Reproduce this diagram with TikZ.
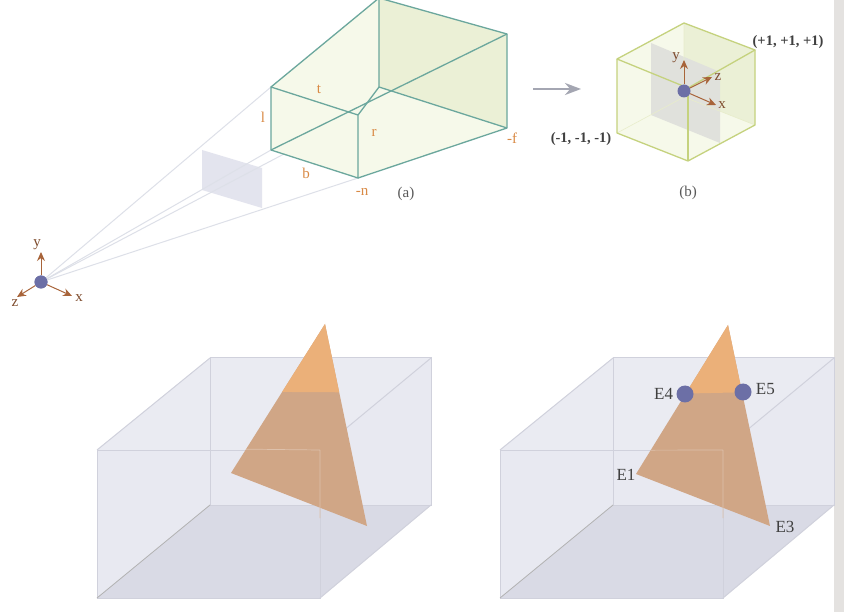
\documentclass[tikz,border=0pt]{standalone}
\definecolor{FrTeal}{HTML}{6BA79D}
\definecolor{FrFill}{HTML}{F6F9EA}
\definecolor{FrBack}{HTML}{EBF0D6}
\definecolor{CubeEdge}{HTML}{C5D27E}
\definecolor{RayGrey}{HTML}{DDE0E8}
\definecolor{PlaneBlue}{HTML}{E3E4EE}
\definecolor{PlaneGrey}{HTML}{E0E1DC}
\definecolor{AxisBrown}{HTML}{A8643A}
\definecolor{LabelOrange}{HTML}{D98A45}
\definecolor{DotBlue}{HTML}{6C6FA6}
\definecolor{ArrowGrey}{HTML}{A4A6B2}
\definecolor{BoxEdge}{HTML}{D0D1DC}
\definecolor{BoxWall}{HTML}{E8E9F1}
\definecolor{BoxTop}{HTML}{EAEBF2}
\definecolor{BoxFloor}{HTML}{D9DAE5}
\definecolor{TriLight}{HTML}{EBB079}
\definecolor{TriDark}{HTML}{D0A686}
\definecolor{StripGrey}{HTML}{E4E2E0}
\usepackage{fontspec}
\setmainfont{Liberation Serif}
\usepackage{tikz}
\usetikzlibrary{positioning,arrows.meta,calc}

\begin{document}
\begin{tikzpicture}[x=1pt,y=-1pt,
    every node/.style={font=\fontsize{12}{13}\selectfont, inner sep=0pt},
    frustumline/.style={draw=FrTeal, line width=1.3pt, line join=round},
    cubeline/.style={draw=CubeEdge, line width=1.3pt, line join=round},
    ray/.style={draw=RayGrey, line width=1pt},
    axis/.style={-{Stealth[length=9pt,width=8pt]}, draw=AxisBrown, line width=1pt},
    axislabel/.style={text=AxisBrown!75!black, font=\fontsize{15}{16}\selectfont},
    planelabel/.style={text=LabelOrange, font=\fontsize{15}{16}\selectfont},
    cornerlabel/.style={text=black!75, font=\fontsize{14.5}{16}\selectfont\bfseries},
    caption/.style={text=black!65, font=\fontsize{15}{16}\selectfont},
    dot/.style={circle, fill=DotBlue, minimum size=#1},
    elabel/.style={text=black!75, font=\fontsize{17}{18}\selectfont}]
    \useasboundingbox (0,0) rectangle (844,612);
    \fill[white] (0,0) rectangle (844,612);
    \fill[StripGrey] (834,0) rectangle (844,612);
    % (a)
    \coordinate (ntl) at (271,87);
    \coordinate (ntr) at (358,115);
    \coordinate (nbr) at (358,178);
    \coordinate (nbl) at (271,150);
    \coordinate (ftb) at (379,-2);
    \coordinate (ftr) at (507,34);
    \coordinate (fbr) at (507,128);
    \coordinate (fbb) at (379,87);
    \fill[PlaneBlue] (202,150) -- (262,168) -- (262,208) -- (202,190) -- cycle;
    \node[dot=13pt] (eye) at (41,282) {};
    \foreach \c in {ntl,nbl,ntr,nbr} \draw[ray] (eye.center) -- (\c);
    \fill[FrFill] (ntl) -- (ftb) -- (ftr) -- (fbr) -- (nbr) -- (nbl) -- cycle;
    \fill[FrBack] (ftb) -- (ftr) -- (fbr) -- (fbb) -- cycle;
    \draw[frustumline] (ntl) -- (ntr) -- (nbr) -- (nbl) -- cycle;
    \draw[frustumline] (ntl) -- (ftb) -- (ftr) -- (fbr) -- (nbr);
    \draw[frustumline] (ftb) -- (fbb) -- (fbr);
    \draw[frustumline] (nbl) -- (ftr);
    \draw[frustumline] (ntr) -- (fbb);
    \coordinate (ex) at (72,296);
    \coordinate (ey) at (41,252);
    \coordinate (ez) at (17,297);
    \draw[axis] (eye) -- (ex);
    \draw[axis] (eye) -- (ey);
    \draw[axis] (eye) -- (ez);
    \node[dot=13pt] at (eye) {};
    \node[axislabel] (lx) at (79,298) {x};
    \node[axislabel] (ly) at (37,245) {y};
    \node[axislabel] (lz) at (15,303) {z};
    \node[planelabel] (lt) at (319,89) {t};
    \node[planelabel] (ll) at (263,117) {l};
    \node[planelabel] (lr) at (374,133) {r};
    \node[planelabel] (lb) at (306,173) {b};
    \node[planelabel] (ln) at (362,192) {-n};
    \node[planelabel] (lf) at (512,138) {-f};
    \node[caption] (capa) at (406,194) {(a)};
    % arrow
    \coordinate (as) at (533,89);
    \coordinate (ae) at (581,89);
    \draw[-{Stealth[length=16pt,width=12pt]}, draw=ArrowGrey, fill=ArrowGrey, line width=2.4pt] (as) -- (ae);
    % (b)
    \coordinate (ctb) at (684,23);
    \coordinate (ctr) at (755,50);
    \coordinate (ctf) at (688,88);
    \coordinate (ctl) at (617,59);
    \coordinate (cbb) at (684,97);
    \coordinate (cbr) at (755,125);
    \coordinate (cbf) at (688,161);
    \coordinate (cbl) at (617,133);
    \fill[FrFill] (ctb) -- (ctr) -- (cbr) -- (cbf) -- (cbl) -- (ctl) -- cycle;
    \fill[FrBack] (ctb) -- (ctr) -- (cbr) -- (cbb) -- cycle;
    \fill[PlaneGrey] (651,43) -- (720,72) -- (720,143) -- (651,115) -- cycle;
    \draw[cubeline, line width=0.6pt, draw=CubeEdge!40] (ctb) -- (cbb) (cbl) -- (cbb) -- (cbr);
    \draw[cubeline] (ctl) -- (ctb) -- (ctr) -- (ctf) -- cycle;
    \draw[cubeline] (ctl) -- (cbl) -- (cbf) -- (cbr) -- (ctr);
    \draw[cubeline] (ctf) -- (cbf);
    \node[dot=13pt] (org) at (684,91) {};
    \coordinate (cx) at (716,105);
    \coordinate (cy) at (684,60);
    \coordinate (cz) at (712,77);
    \draw[axis] (org) -- (cx);
    \draw[axis] (org) -- (cy);
    \draw[axis] (org) -- (cz);
    \node[axislabel] (lcx) at (722,105) {x};
    \node[axislabel] (lcy) at (676,58) {y};
    \node[axislabel] (lcz) at (718,77) {z};
    \node[cornerlabel] (cmax) at (788,42) {(+1, +1, +1)};
    \node[cornerlabel] (cmin) at (581,139) {(-1, -1, -1)};
    \node[caption] (capb) at (688,193) {(b)};
    % clip boxes
    \foreach \dx in {0,403} {
      \begin{scope}[xshift=\dx pt]
        \coordinate (fa) at (97,450);
        \coordinate (fb) at (320,450);
        \coordinate (fc) at (320,598);
        \coordinate (fd) at (97,598);
        \coordinate (ba) at (210,358);
        \coordinate (bb) at (431,358);
        \coordinate (bc) at (431,505);
        \coordinate (bd) at (210,505);
        \fill[BoxWall] (ba) -- (bb) -- (bc) -- (fc) -- (fd) -- (fa) -- cycle;
        \fill[BoxTop] (fa) -- (ba) -- (bb) -- (fb) -- cycle;
        \fill[BoxFloor] (fd) -- (bd) -- (bc) -- (fc) -- cycle;
        \draw[BoxEdge, line width=1pt] (fa) -- (fb) -- (fc) -- (fd) -- cycle;
        \draw[BoxEdge, line width=1pt] (ba) -- (bb) -- (bc) -- (bd) -- cycle;
        \draw[BoxEdge, line width=1pt] (fa) -- (ba) (fb) -- (bb) (fc) -- (bc);
        \draw[black!30, line width=0.8pt] (fd) -- (bd);
      \end{scope}
    }
    % left triangle
    \coordinate (ta) at (325,324);
    \coordinate (tb) at (231,473);
    \coordinate (tc) at (367,526);
    \fill[TriDark] (ta) -- (tb) -- (tc) -- cycle;
    \fill[TriLight] (ta) -- ($(ta)!0.456!(tb)$) -- ($(ta)!0.338!(tc)$) -- cycle;
    \draw[TriLight!50!BoxEdge, line width=0.7pt] (320,450) -- (320,518) ($(ta)!0.84!(tb)$) -- (320,450);
    % right triangle
    \coordinate (ua) at (728,325);
    \coordinate (ub) at (636,474);
    \coordinate (uc) at (770,526);
    \fill[TriDark] (ua) -- (ub) -- (uc) -- cycle;
    \fill[TriLight] (ua) -- ($(ua)!0.46!(ub)$) -- ($(ua)!0.335!(uc)$) -- cycle;
    \draw[TriLight!50!BoxEdge, line width=0.7pt] (723,450) -- (723,518) ($(ua)!0.84!(ub)$) -- (723,450);
    \node[dot=17pt] (e4) at (685,394) {};
    \node[dot=17pt] (e5) at (743,392) {};
    \node[elabel, left=3pt of e4] (le4) {E4};
    \node[elabel, right=4pt of e5, yshift=3pt] (le5) {E5};
    \node[elabel] (le1) at (626,475) {E1};
    \node[elabel] (le3) at (785,527) {E3};
  \end{tikzpicture}
\end{document}
